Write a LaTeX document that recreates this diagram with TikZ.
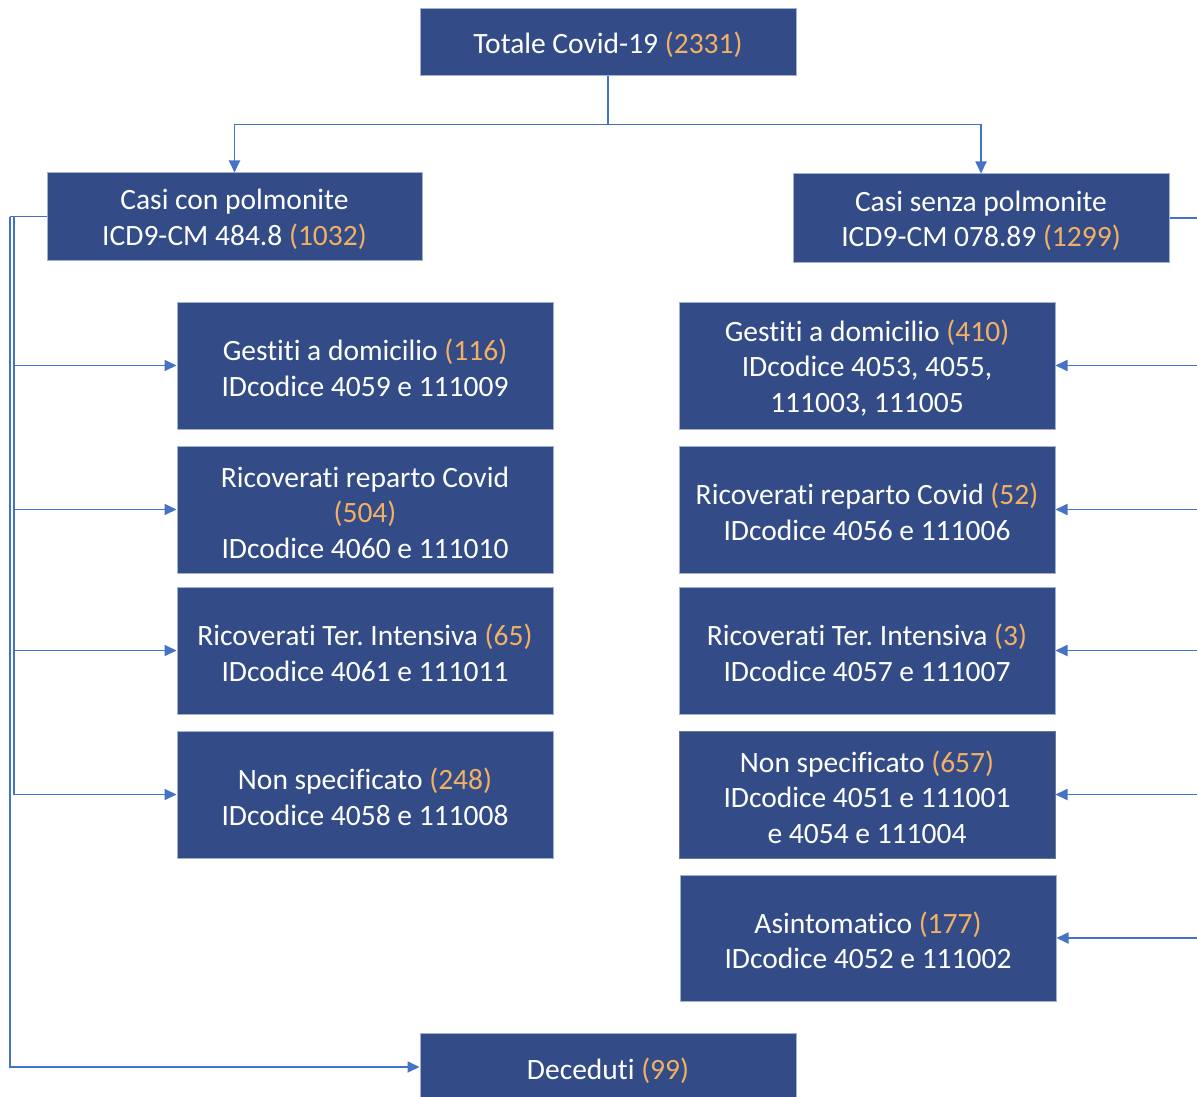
\documentclass[tikz,border=0pt]{standalone}
\usepackage{fontspec}
\setmainfont{Carlito}[Ligatures={NoCommon}]
\frenchspacing
\usetikzlibrary{arrows.meta}
\definecolor{boxblue}{RGB}{51,76,135}
\definecolor{boxedge}{RGB}{160,178,212}
\definecolor{darkedge}{RGB}{110,120,140}
\definecolor{numor}{RGB}{242,176,100}
\definecolor{linkblue}{RGB}{68,114,196}
\newcommand{\num}[1]{\textcolor{numor}{#1}}
\newcommand{\topstrut}{\rule{0pt}{26.5pt}}
\tikzset{
  box/.style={draw=boxedge, line width=1pt, fill=boxblue, text=white, align=center,
    minimum width=376pt, inner sep=0pt, font=\fontsize{29.5}{35.5}\selectfont\frenchspacing},
  link/.style={draw=linkblue, line width=1.8pt},
  arr/.style={link, -{Triangle[length=12pt,width=11pt]}}
}
\begin{document}
\begin{tikzpicture}[x=1pt,y=-1pt]
\useasboundingbox (0,0) rectangle (1197,1097);
% top
\node[box, minimum height=67pt] (tot) at (608,42.5) {\topstrut Totale Covid-19 \num{(2331)}};
\node[box, minimum width=375pt, minimum height=87pt] (con) at (234.5,216.5) {\topstrut Casi con polmonite\\ICD9-CM 484.8 \num{(1032)}};
\node[box, minimum height=88pt] (sen) at (981,218) {\topstrut Casi senza polmonite\\ICD9-CM 078.89 \num{(1299)}};
% left children
\node[box, minimum height=127pt] (lg) at (365,365.5) {\topstrut Gestiti a domicilio \num{(116)}\\IDcodice 4059 e 111009};
\node[box, minimum height=127pt] (lr) at (365,509.5) {\topstrut Ricoverati reparto Covid\\\num{(504)}\\IDcodice 4060 e 111010};
\node[box, minimum height=127pt] (lt) at (365,650.5) {\topstrut Ricoverati Ter. Intensiva \num{(65)}\\IDcodice 4061 e 111011};
\node[box, minimum height=127pt] (ln) at (365,794.5) {\topstrut Non specificato \num{(248)}\\IDcodice 4058 e 111008};
% right children
\node[box, minimum height=127pt] (rg) at (867,365.5) {\topstrut Gestiti a domicilio \num{(410)}\\IDcodice 4053, 4055,\\111003, 111005};
\node[box, minimum height=127pt] (rr) at (867,509.5) {\topstrut Ricoverati reparto Covid \num{(52)}\\IDcodice 4056 e 111006};
\node[box, minimum height=127pt] (rt) at (867,650.5) {\topstrut Ricoverati Ter. Intensiva \num{(3)}\\IDcodice 4057 e 111007};
\node[box, minimum height=127pt, draw=darkedge] (rn) at (867,794.5) {\topstrut Non specificato \num{(657)}\\IDcodice 4051 e 111001\\e 4054 e 111004};
\node[box, minimum height=126pt] (ra) at (868,938) {\topstrut Asintomatico \num{(177)}\\IDcodice 4052 e 111002};
% bottom
\node[box, minimum height=70pt] (dec) at (608,1068) {};
\node[text=white, font=\fontsize{29.5}{35.5}\selectfont, inner sep=0pt] (dect) at (608,1068) {\topstrut Deceduti \num{(99)}};
% connectors top
\coordinate (split) at (608,124.5);
\draw[link] (tot.south) -- (split);
\draw[arr] (split) -| (con.north);
\draw[arr] (split) -| (sen.north);
% left connectors
\coordinate (lbus) at (14,216.5);
\coordinate (dbus) at (10,216.5);
\draw[link] (con.west) -- (dbus);
\draw[arr] (dbus) |- (dec.west |- 0,1067);
\draw[link] (con.west) -- (lbus);
\draw[arr] (lbus) |- (lg.west);
\draw[arr] (lbus) |- (lr.west);
\draw[arr] (lbus) |- (lt.west);
\draw[arr] (lbus) |- (ln.west);
% right connectors
\coordinate (rbus) at (1205,218);
\draw[link] (sen.east) -- (rbus);
\draw[link] (rbus) -- (1205,938);
\draw[arr] (rbus |- rg.east) -- (rg.east);
\draw[arr] (rbus |- rr.east) -- (rr.east);
\draw[arr] (rbus |- rt.east) -- (rt.east);
\draw[arr] (rbus |- rn.east) -- (rn.east);
\draw[arr] (rbus |- ra.east) -- (ra.east);
\end{tikzpicture}
\end{document}
